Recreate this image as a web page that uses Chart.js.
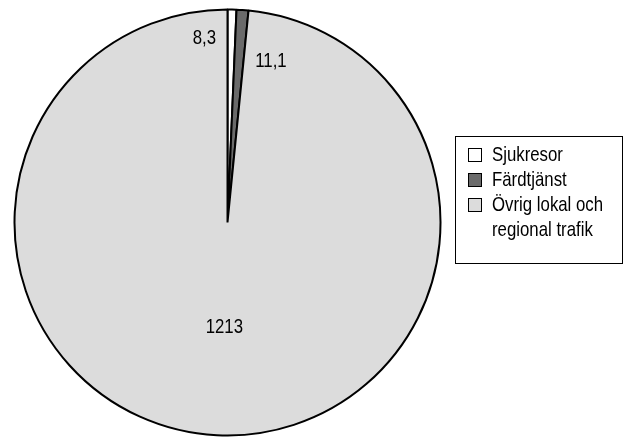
<!DOCTYPE html>
<html>
<head>
<meta charset="utf-8">
<script src="https://cdn.jsdelivr.net/npm/chart.js@4.4.1/dist/chart.umd.min.js"></script>
<style>
  html, body { margin: 0; padding: 0; background: #ffffff; }
  #wrap { width: 625px; height: 437px; position: relative; }
</style>
</head>
<body>
<div id="wrap"><canvas id="c" width="625" height="437"></canvas></div>
<script>
// ---- Data ----
const categories = ['Sjukresor', 'Färdtjänst', 'Övrig lokal och regional trafik'];
const values = [8.3, 11.1, 1213];
const colors = ['#ffffff', '#6a6a6a', '#dcdcdc'];

const FONT = '"Liberation Sans", Arial, sans-serif';
const SX = 0.8; // horizontal condensing to mimic a narrow face
const fmt = v => v.toLocaleString('sv-SE', { useGrouping: false, maximumFractionDigits: 1 });

function narrowText(ctx, text, x, y) {
  ctx.save();
  ctx.translate(x, y);
  ctx.scale(SX, 1);
  ctx.fillText(text, 0, 0);
  ctx.restore();
}

// Value labels, placed relative to each arc's mid-angle
const valueLabelPlugin = {
  id: 'valueLabels',
  afterDatasetsDraw(chart, args, opts) {
    const ctx = chart.ctx;
    const meta = chart.getDatasetMeta(0);
    ctx.save();
    ctx.font = opts.size + 'px ' + FONT;
    ctx.fillStyle = '#000';
    ctx.textAlign = 'center';
    ctx.textBaseline = 'middle';
    meta.data.forEach((arc, i) => {
      const p = opts.place[i];
      const mid = (arc.startAngle + arc.endAngle) / 2;
      const r = arc.outerRadius * p.r;
      const x = arc.x + Math.cos(mid) * r + p.dx;
      const y = arc.y + Math.sin(mid) * r + p.dy;
      narrowText(ctx, fmt(chart.data.datasets[0].data[i]), x, y);
    });
    ctx.restore();
  }
};

// Boxed legend on the right
const boxLegendPlugin = {
  id: 'boxLegend',
  afterDraw(chart, args, opts) {
    const ctx = chart.ctx;
    ctx.save();
    ctx.font = opts.size + 'px ' + FONT;
    ctx.strokeStyle = '#000';
    ctx.lineWidth = 1;
    ctx.strokeRect(opts.x + 0.5, opts.y + 0.5, opts.w, opts.h);
    const ds = chart.data.datasets[0];
    let y = opts.y + opts.firstLine;
    chart.data.labels.forEach((lab, i) => {
      const words = lab.split(' ');
      const lines = [];
      let cur = '';
      words.forEach(w => {
        const t = cur ? cur + ' ' + w : w;
        if (ctx.measureText(t).width * SX > opts.maxText && cur) { lines.push(cur); cur = w; }
        else cur = t;
      });
      lines.push(cur);
      ctx.fillStyle = ds.backgroundColor[i];
      ctx.fillRect(opts.x + opts.boxX, y - opts.box + 1, opts.box, opts.box);
      ctx.strokeStyle = '#000';
      ctx.strokeRect(opts.x + opts.boxX + 0.5, y - opts.box + 1.5, opts.box - 1, opts.box - 1);
      ctx.fillStyle = '#000';
      ctx.textBaseline = 'alphabetic';
      ctx.textAlign = 'left';
      lines.forEach((ln, k) => {
        narrowText(ctx, ln, opts.x + opts.textX, y + k * opts.lineH);
      });
      y += lines.length * opts.lineH;
    });
    ctx.restore();
  }
};

new Chart(document.getElementById('c'), {
  type: 'pie',
  data: {
    labels: categories,
    datasets: [{
      data: values,
      backgroundColor: colors,
      borderColor: '#000000',
      borderWidth: 2,
      hoverOffset: 0
    }]
  },
  options: {
    responsive: false,
    animation: false,
    events: [],
    layout: { padding: { top: 8.5, bottom: 0.5, left: 13.5, right: 183.5 } },
    plugins: {
      legend: { display: false },
      tooltip: { enabled: false },
      valueLabels: {
        size: 21,
        place: [
          { r: 0.865, dx: -27, dy: 0 },
          { r: 0.76, dx: 32, dy: 0 },
          { r: 0.49, dx: 2, dy: 0 }
        ]
      },
      boxLegend: {
        x: 455, y: 136, w: 167, h: 127,
        size: 21, box: 14, boxX: 13, textX: 37,
        firstLine: 25, lineH: 25, maxText: 125
      }
    }
  },
  plugins: [valueLabelPlugin, boxLegendPlugin]
});
</script>
</body>
</html>
